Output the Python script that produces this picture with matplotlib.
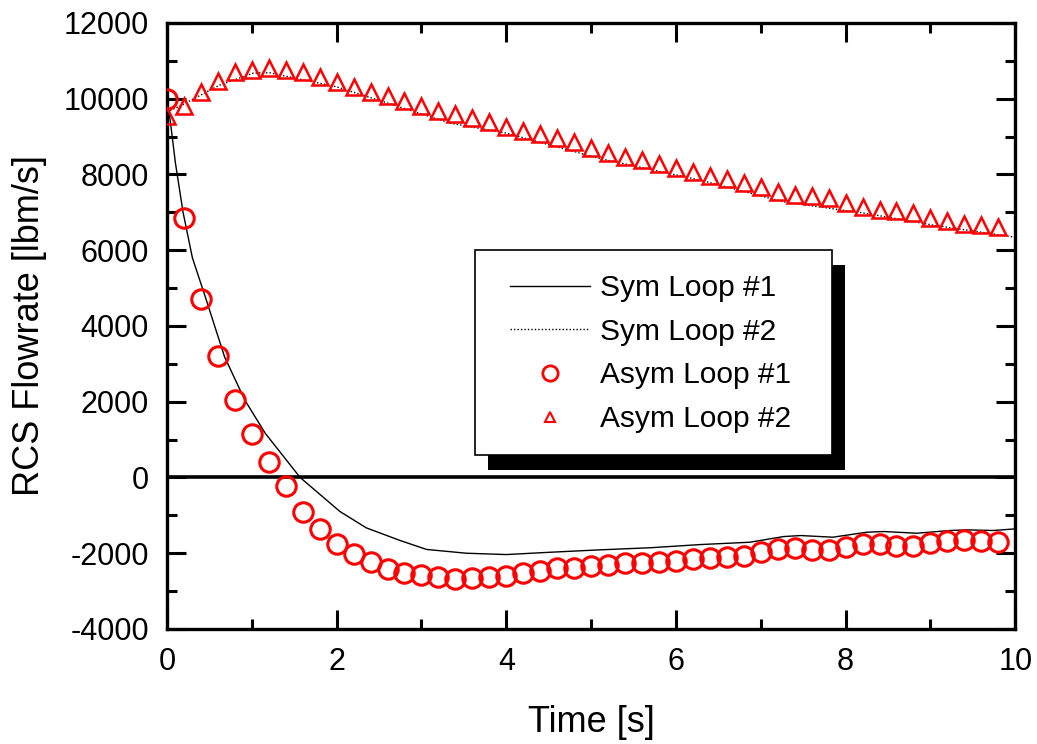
import matplotlib
matplotlib.use("Agg")
import matplotlib.pyplot as plt
from matplotlib.lines import Line2D
from matplotlib.patches import Rectangle
from matplotlib.ticker import MultipleLocator

plt.rcParams["font.family"] = ["Liberation Sans", "DejaVu Sans"]
plt.rcParams["axes.unicode_minus"] = False

# Sym Loop #1 (solid line)
sym1_t = [0.0, 0.04, 0.1, 0.19, 0.3, 0.46, 0.68, 0.92, 1.16, 1.57, 2.04, 2.35,
          2.75, 3.06, 3.53, 4.0, 4.52, 5.1, 5.7, 6.29, 6.87, 7.27, 7.47, 7.85,
          8.25, 8.45, 8.84, 9.23, 9.43, 9.74, 10.0]
sym1_q = [10000, 9400, 8300, 7000, 5800, 4713, 3180, 2035, 1163, 0, -900, -1330,
          -1665, -1900, -2000, -2035, -1974, -1911, -1855, -1771, -1710, -1560, -1533, -1577,
          -1445, -1427, -1472, -1400, -1383, -1400, -1357]

# Sym Loop #2 (dotted line)
sym2_t = [0.0, 0.14, 0.62, 1.02, 1.21, 2.0, 3.34, 4.0, 5.1, 6.29, 7.27, 8.25, 9.04, 9.98]
sym2_q = [9650, 9790, 10360, 10678, 10686, 10315, 9356, 9092, 8423, 7850, 7276, 6970, 6660, 6351]

# Asym loops, sampled every 0.2 s
asym_t = [round(0.2 * i, 1) for i in range(50)]
asym1_q = [10000, 6845, 4705, 3198, 2035, 1136, 396, -238, -899, -1348,
           -1744, -2009, -2220, -2405, -2511, -2564, -2617, -2670, -2660, -2640,
           -2590, -2510, -2460, -2400, -2380, -2330, -2300, -2270, -2250, -2230,
           -2195, -2150, -2125, -2090, -2060, -1975, -1885, -1870, -1910, -1910,
           -1840, -1753, -1753, -1797, -1797, -1736, -1665, -1647, -1683, -1692]
asym2_q = [9540, 9805, 10184, 10475, 10704, 10757, 10800, 10757, 10695, 10563,
           10440, 10300, 10184, 10070, 9946, 9805, 9681, 9594, 9488, 9383,
           9250, 9145, 9065, 8960, 8855, 8695, 8572, 8466, 8378, 8264,
           8175, 8070, 7964, 7885, 7779, 7673, 7541, 7471, 7427, 7366,
           7234, 7144, 7075, 7038, 6970, 6853, 6766, 6705, 6660, 6616]

TICK_FS = 22
LABEL_FS = 26
LEG_FS = 21.5

fig = plt.figure(figsize=(10.37, 7.44), dpi=100)
ax = fig.add_axes([0.161, 0.1546, 0.818, 0.8145])

ax.axhline(0, color="black", lw=2.6, zorder=1)
ax.plot(sym1_t, sym1_q, color="black", lw=1.0, zorder=2)
ax.plot(sym2_t, sym2_q, color="black", lw=1.0, ls=(0, (1, 1.5)), zorder=2)
ax.plot(asym_t, asym1_q, ls="none", marker="o", ms=14, mfc="none",
        mec="red", mew=2.2, zorder=3)
ax.plot(asym_t, asym2_q, ls="none", marker="^", ms=11.5, mfc="none",
        mec="red", mew=1.8, zorder=3)

ax.set_xlim(0, 10)
ax.set_ylim(-4000, 12000)
ax.xaxis.set_major_locator(MultipleLocator(2))
ax.xaxis.set_minor_locator(MultipleLocator(1))
ax.yaxis.set_major_locator(MultipleLocator(2000))
ax.yaxis.set_minor_locator(MultipleLocator(1000))
ax.tick_params(which="both", direction="in", top=True, right=True,
               width=2.2, labelsize=TICK_FS, pad=13)
ax.tick_params(which="major", length=14)
ax.tick_params(which="minor", length=7)
for s in ax.spines.values():
    s.set_linewidth(2.4)

ax.set_xlabel("Time [s]", fontsize=LABEL_FS, labelpad=20)
ax.set_ylabel("RCS Flowrate [lbm/s]", fontsize=LABEL_FS, labelpad=12)

# legend box with a hard black drop shadow (drawn by hand, legend itself frameless)
box_x0, box_y0, box_w, box_h = 0.363, 0.287, 0.421, 0.338
ax.add_patch(Rectangle((box_x0 + 0.0155, box_y0 - 0.025), box_w, box_h,
                       transform=ax.transAxes, facecolor="black",
                       edgecolor="none", zorder=5))
ax.add_patch(Rectangle((box_x0, box_y0), box_w, box_h,
                       transform=ax.transAxes, facecolor="white",
                       edgecolor="black", lw=1.2, zorder=5.5))

handles = [
    Line2D([], [], color="black", lw=1.0),
    Line2D([], [], color="black", lw=1.0, ls=(0, (1, 1.5))),
    Line2D([], [], ls="none", marker="o", ms=11, mfc="none", mec="red", mew=2.0),
    Line2D([], [], ls="none", marker="^", ms=7, mfc="none", mec="red", mew=1.5),
]
labels = ["Sym Loop #1", "Sym Loop #2", "Asym Loop #1", "Asym Loop #2"]
leg = ax.legend(handles, labels, loc="upper left", bbox_to_anchor=(0.374, 0.627),
                borderaxespad=0, fontsize=LEG_FS, frameon=False,
                borderpad=0.85, labelspacing=0.52,
                handlelength=2.68, handletextpad=0.35)
leg.set_zorder(6)

fig.savefig("out.png", dpi=100)
